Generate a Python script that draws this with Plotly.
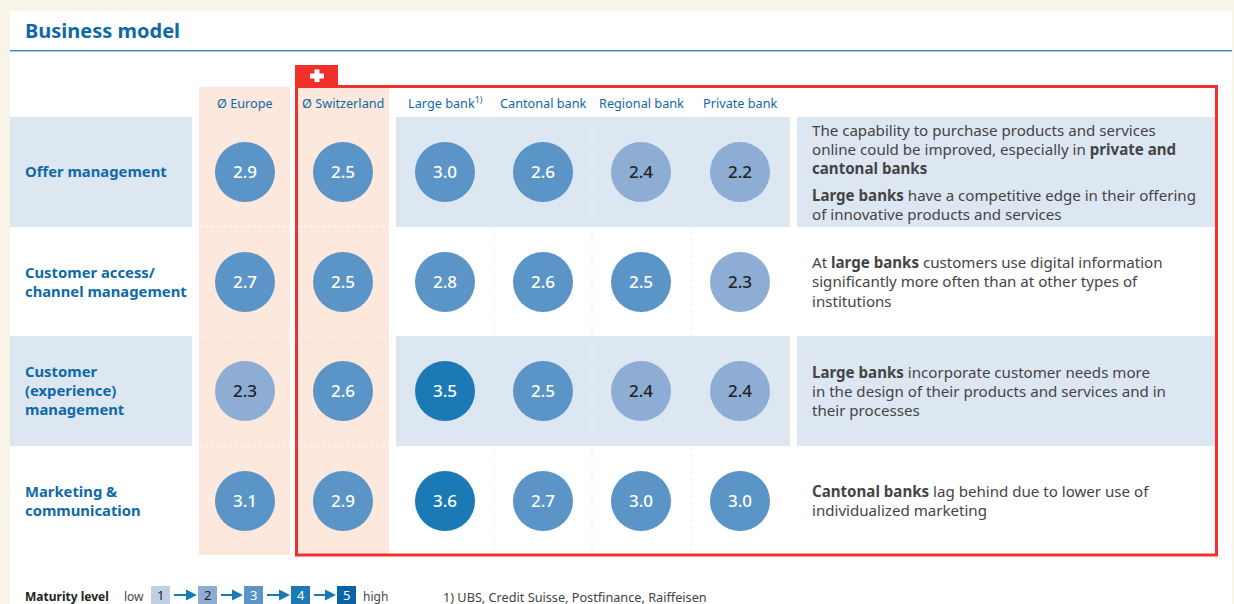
import plotly.graph_objects as go

# ---- data ----
title = "Business model"
columns = ["Ø Europe", "Ø Switzerland", "Large bank<sup>1)</sup>", "Cantonal bank", "Regional bank", "Private bank"]
rows = ["Offer management", "Customer access/<br>channel management", "Customer<br>(experience)<br>management", "Marketing &<br>communication"]
offer_management = [2.9, 2.5, 3.0, 2.6, 2.4, 2.2]
customer_access = [2.7, 2.5, 2.8, 2.6, 2.5, 2.3]
customer_experience = [2.3, 2.6, 3.5, 2.5, 2.4, 2.4]
marketing = [3.1, 2.9, 3.6, 2.7, 3.0, 3.0]
comments = [
    ["The capability to purchase products and services",
     "online could be improved, especially in <b>private and</b>",
     "<b>cantonal banks</b>",
     "<b>Large banks</b> have a competitive edge in their offering",
     "of innovative products and services"],
    ["At <b>large banks</b> customers use digital information",
     "significantly more often than at other types of",
     "institutions"],
    ["<b>Large banks</b> incorporate customer needs more",
     "in the design of their products and services and in",
     "their processes"],
    ["<b>Cantonal banks</b> lag behind due to lower use of",
     "individualized marketing"],
]
legend_levels = [1, 2, 3, 4, 5]
footnote = "1) UBS, Credit Suisse, Postfinance, Raiffeisen"

# ---- layout geometry and style (page pixels) ----
W, H = 1234, 604
FONT = "Noto Sans"
COL_X = [245, 343, 445, 543, 641, 740]
ROW_Y = [172, 282, 391, 501]
COMMENT_Y = [[130, 149, 168, 195, 214], [262, 281, 301], [372, 391, 410], [491, 510]]
LEGEND_X = [160.5, 207.5, 253.5, 300.5, 346.5]
BLUE = "#0f69a6"
BAND = "#dde7f2"
PEACH = "#fce8dd"
RED = "#f0302a"
LIGHT, MID, DARK = "#8dadd5", "#5b94c6", "#1b7ab6"
LEGEND_COL = ["#bfd0e6", "#8dadd5", "#5b94c6", "#1b7ab6", "#0a64a4"]
LEGEND_TXT = ["#222222", "#222222", "#ffffff", "#ffffff", "#ffffff"]
VALUE_TEXT_DROP = 2


def fill(v):
    return LIGHT if v < 2.5 else (MID if v < 3.5 else DARK)


def ink(v):
    return "#222222" if v < 2.5 else "#ffffff"


def rect(x0, y0, x1, y1, color, **kw):
    return dict(type="rect", x0=x0, y0=y0, x1=x1, y1=y1, fillcolor=color,
                line=dict(width=0), layer="below", **kw)


def label(x, y, text, size, color, anchor="left", family=FONT):
    return dict(x=x, y=y, text=text, showarrow=False, xanchor=anchor, yanchor="middle",
                align=anchor, font=dict(family=family, size=size, color=color))


shapes = [
    rect(10, 11, 1232, 604, "#ffffff"),
    rect(10, 50, 1232, 51.5, "#2f8ac4"),
    rect(10, 51.5, 1232, 52, "#b5d5ea"),
    rect(199, 87, 290, 555, PEACH),
    rect(298, 87, 389, 555, PEACH),
    rect(10, 117, 192, 227, BAND),
    rect(10, 336, 192, 446, BAND),
    rect(396, 117, 790, 227, BAND),
    rect(396, 336, 790, 446, BAND),
    rect(797, 117, 1216, 227, BAND),
    rect(797, 336, 1216, 446, BAND),
]
for x in (494, 592, 691):
    shapes.append(dict(type="line", x0=x, x1=x, y0=117, y1=555, layer="below",
                       line=dict(color="#e9edf7", width=1, dash="dot")))
for y in (226.5, 336, 446):
    for x0, x1 in ((199, 290), (298, 389)):
        shapes.append(dict(type="line", x0=x0, x1=x1, y0=y, y1=y, layer="below",
                           line=dict(color="#ffffff", width=1, dash="dot")))
shapes += [
    dict(type="rect", x0=296.5, y0=86.5, x1=1216.5, y1=555, fillcolor="rgba(0,0,0,0)",
         line=dict(color=RED, width=3), layer="below"),
    rect(295, 65, 338, 86, RED),
    rect(310, 73.5, 324, 78.5, "#ffffff"),
    rect(314.5, 69.5, 319.5, 82, "#ffffff"),
]
for x, c in zip(LEGEND_X, LEGEND_COL):
    shapes.append(rect(x - 9.5, 586, x + 9.5, 605, c))

annotations = [label(23, 30.5, "<b>%s</b>" % title, 20, BLUE)]
for x, c in zip(COL_X, columns):
    annotations.append(label(x, 103, c, 12.7, BLUE, "center"))
for y, r in zip(ROW_Y, rows):
    annotations.append(label(23, y - 1, "<b>%s</b>" % r, 14.8, BLUE))
for lines, ys in zip(comments, COMMENT_Y):
    for line, y in zip(lines, ys):
        annotations.append(label(810, y, line, 15.1, "#444444"))
annotations.append(label(23, 596, "<b>Maturity level</b>", 12, "#222222"))
annotations.append(label(122, 596, "low", 12, "#444444"))
annotations.append(label(361, 596, "high", 12, "#444444"))
annotations.append(label(441, 596.5, footnote, 12.7, "#444444"))
for x, n, t in zip(LEGEND_X, legend_levels, LEGEND_TXT):
    annotations.append(label(x, 595, str(n), 13, t, "center"))
for x0, x1 in zip(LEGEND_X[:-1], LEGEND_X[1:]):
    annotations.append(dict(x=x1 - 10.5, y=595, ax=x0 + 12, ay=595, axref="x", ayref="y",
                            xref="x", yref="y", text="", showarrow=True, arrowhead=2,
                            arrowsize=1.1, arrowwidth=2, arrowcolor=DARK))

series = [offer_management, customer_access, customer_experience, marketing]
xs, ys, vals = [], [], []
for y, s in zip(ROW_Y, series):
    for x, v in zip(COL_X, s):
        xs.append(x)
        ys.append(y)
        vals.append(v)

fig = go.Figure()
fig.add_trace(go.Scatter(
    x=xs, y=ys, mode="markers",
    marker=dict(size=60, color=[fill(v) for v in vals], line=dict(width=0)),
    hoverinfo="skip", cliponaxis=False,
))
fig.add_trace(go.Scatter(
    x=xs, y=[y + VALUE_TEXT_DROP for y in ys], mode="text",
    text=["%.1f" % v for v in vals],
    textposition="middle center",
    textfont=dict(family=FONT, size=17, color=[ink(v) for v in vals], weight=500),
    hoverinfo="skip", cliponaxis=False,
))
fig.update_layout(
    width=W, height=H, margin=dict(l=0, r=0, t=0, b=0),
    paper_bgcolor="#f8f4e8", plot_bgcolor="rgba(0,0,0,0)",
    showlegend=False, shapes=shapes, annotations=annotations,
    xaxis=dict(range=[0, W], visible=False, fixedrange=True),
    yaxis=dict(range=[H, 0], visible=False, fixedrange=True),
)
fig.write_html("out.html", config=dict(displayModeBar=False),
               post_script="document.body.style.margin='0';document.body.style.overflow='hidden';")
